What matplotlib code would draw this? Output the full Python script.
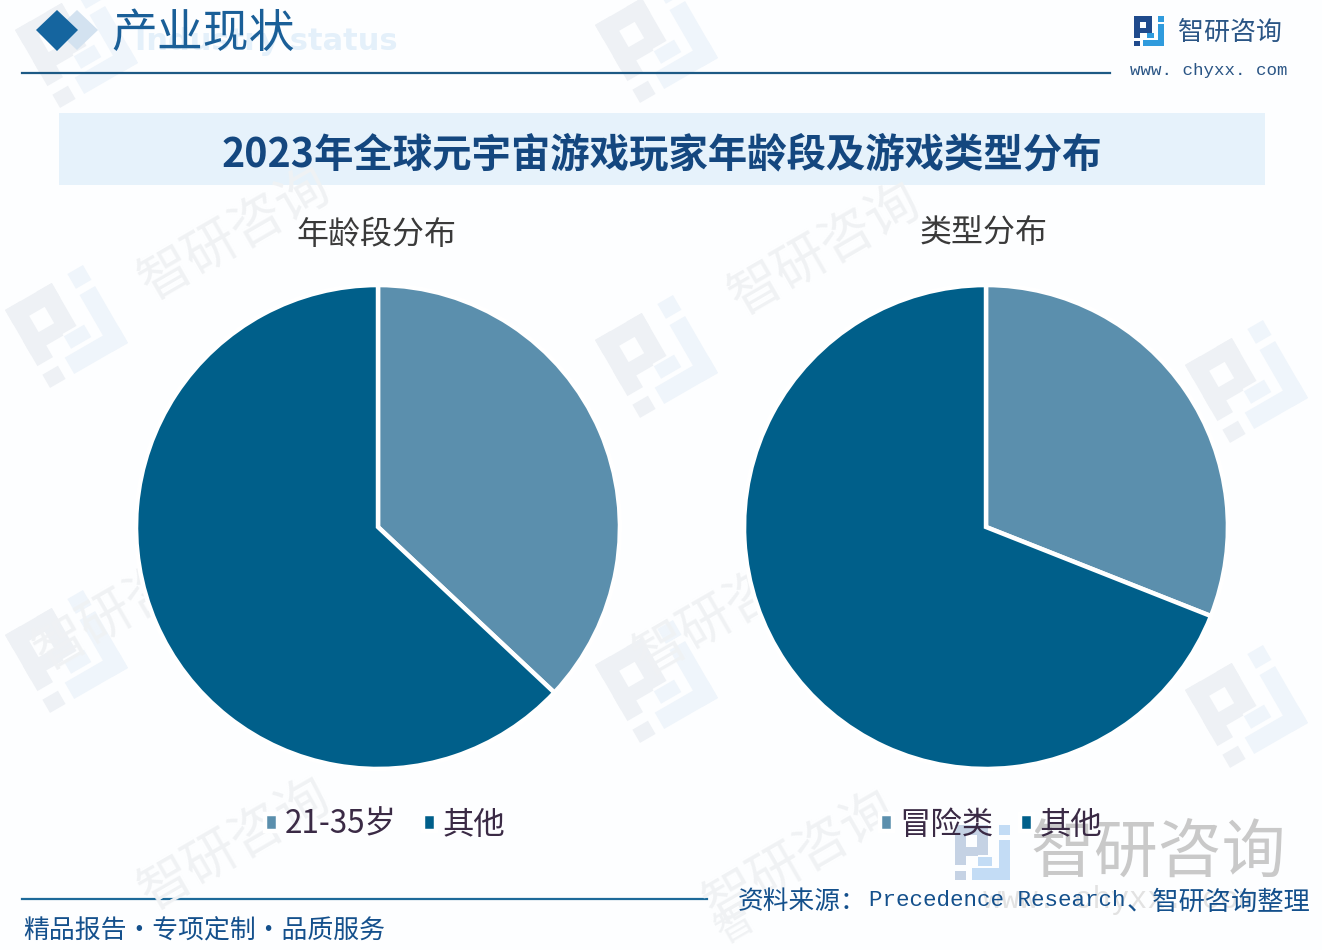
import matplotlib
matplotlib.use('Agg')
import matplotlib.pyplot as plt
from matplotlib.patches import Polygon, Rectangle

CJK = 'Noto Sans CJK SC'
plt.rcParams['font.family'] = [CJK, 'DejaVu Sans']

# Data
age_labels = ['21-35岁', '其他']
age_values = [37, 63]
type_labels = ['冒险类', '其他']
type_values = [31, 69]
pie_colors = ['#5b8fad', '#005f8a']

W, H = 1322, 950
fig = plt.figure(figsize=(W / 100, H / 100), dpi=100, facecolor='#fdfeff')

# Background layer in pixel coordinates
bg = fig.add_axes([0, 0, 1, 1])
bg.set_xlim(0, W)
bg.set_ylim(H, 0)
bg.axis('off')


def logo(ax, x, y, s, c1, c2, angle=0):
    # company mark built from small blocks, x/y = top left, s = width
    t = matplotlib.transforms.Affine2D().rotate_deg_around(x, y, angle) + ax.transData
    blocks = [
        (0, 0, 0.6, 0.19, c1), (0, 0, 0.2, 0.72, c1), (0.4, 0, 0.2, 0.55, c1),
        (0, 0.4, 0.42, 0.17, c1), (0, 0.83, 0.2, 0.17, c1),
        (0.8, 0, 0.2, 0.19, c2), (0.8, 0.27, 0.2, 0.73, c2),
        (0.31, 0.79, 0.69, 0.21, c2), (0.42, 0.58, 0.26, 0.16, c2),
    ]
    for bx, by, bw, bh, c in blocks:
        ax.add_patch(Rectangle((x + bx * s, y + by * s), bw * s, bh * s, fc=c, ec='none', transform=t))


# Watermarks
wm_logos = [(5, 310), (595, 340), (1185, 365), (5, 635), (595, 665), (1185, 690), (595, 25), (15, 30)]
for lx, ly in wm_logos:
    logo(bg, lx, ly, 90, '#eef1f5', '#eff5fb', angle=-30)
wm_text = [(235, 235), (825, 250), (130, 605), (730, 610), (235, 845), (800, 858)]
for tx, ty in wm_text:
    bg.text(tx, ty, '智研咨询', fontsize=38, color='#f0f2f4', rotation=30, ha='center', va='center')
bg.text(735, 925, '智', fontsize=28, color='#f0f2f4', rotation=30, ha='center', va='center')

# Header
bg.text(135, 42, 'Industry status', fontsize=22, fontweight='bold', color='#e4f0fa',
        family='DejaVu Sans', ha='left', va='center')
bg.add_patch(Polygon([(77, 10), (98, 30), (77, 50), (56, 30)], fc='#d3e2f0', ec='none'))
bg.add_patch(Polygon([(57, 10), (78, 30), (57, 51), (36, 30)], fc='#15659f', ec='none'))
bg.text(111, 34, '产业现状', fontsize=33, color='#1a5f98', ha='left', va='center', fontweight='medium')
bg.plot([22, 1110], [73, 73], color='#1d5a85', lw=1.6)

logo(bg, 1134, 16, 30, '#1f4a8c', '#2f9bdd')
bg.text(1178, 32, '智研咨询', fontsize=18.7, color='#2a5585', ha='left', va='center')
bg.text(1130, 70, 'www. chyxx. com', fontsize=12.6, color='#2a5585', family='Liberation Mono',
        ha='left', va='center')

# Title band
bg.add_patch(Rectangle((59, 113), 1206, 72, fc='#e6f2fb', ec='none'))
bg.text(662, 155, '2023年全球元宇宙游戏玩家年龄段及游戏类型分布', fontsize=28.4, fontweight='bold',
        color='#14477f', ha='center', va='center')

# Footer
bg.plot([22, 707], [899, 899], color='#1d6a9a', lw=1.6)
bg.text(23, 931, '精品报告·专项定制·品质服务', fontsize=18.6, color='#14508c', ha='left', va='center')
logo(bg, 955, 825, 55, '#c5d2e4', '#c3dcf5')
bg.text(1030, 855, '智研咨询', fontsize=46, color='#c9c9c9', ha='left', va='center')
bg.text(1120, 900, 'www. chyxx. com', fontsize=22, color='#e2e2e2', family='Liberation Mono',
        ha='center', va='center')
bg.text(738, 902, '资料来源：', fontsize=18.5, color='#14508c', ha='left', va='center')
bg.text(869, 901, 'Precedence Research', fontsize=16.2, color='#14508c', family='Liberation Mono',
        ha='left', va='center')
bg.text(1310, 902, '、智研咨询整理', fontsize=18.9, color='#14508c', ha='right', va='center')


def draw_pie(left, title, values, labels, title_y, legend_x):
    ax = fig.add_axes([left / W, 1 - 767 / H, 480 / W, 480 / H])
    ax.patch.set_alpha(0)
    wedges, _ = ax.pie(values, colors=pie_colors, startangle=90, counterclock=False,
                       wedgeprops={'edgecolor': 'white', 'linewidth': 3.2})
    ax.set_xlim(-0.992, 0.992)
    ax.set_ylim(-0.992, 0.992)
    for w in wedges:
        w.set_clip_on(False)
    bg.text(left + 238, title_y, title, fontsize=23, color='#3a3a3a', ha='center', va='center')
    ax.legend(wedges, labels, loc='center', bbox_to_anchor=(legend_x, -0.12), ncol=2, frameon=False,
              fontsize=22.6, handlelength=0.42, handleheight=0.42, handletextpad=0.2,
              columnspacing=0.85, labelcolor='#3a2a45')
    return ax


draw_pie(138, '年龄段分布', age_values, age_labels, 235, 0.515)
draw_pie(746, '类型分布', type_values, type_labels, 233, 0.51)

fig.savefig('out.png', dpi=100, facecolor=fig.get_facecolor())
